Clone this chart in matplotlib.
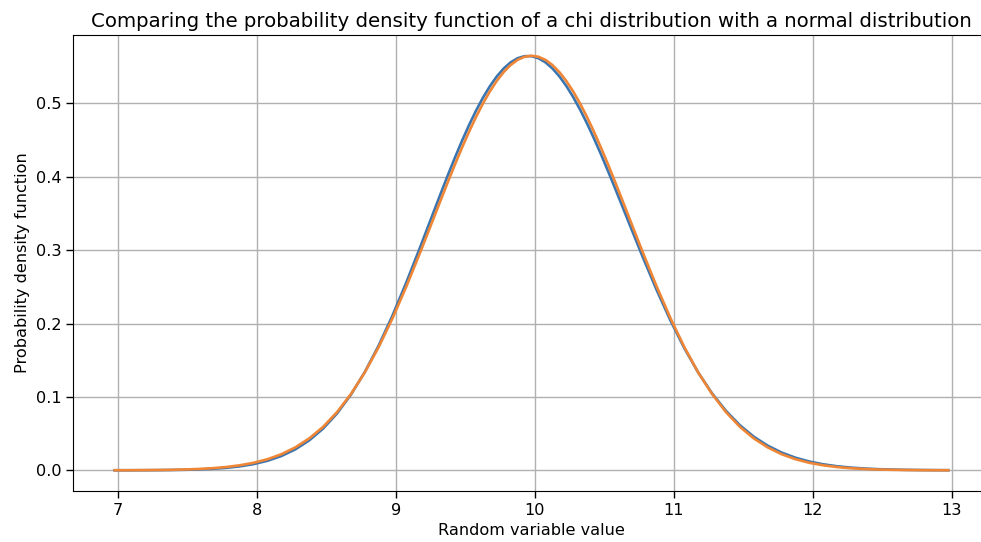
import matplotlib
matplotlib.use("Agg")
import matplotlib.pyplot as plt

# Random variable values (x positions of the sampled curves)
x_values = [6.975, 7.075, 7.175, 7.275, 7.375, 7.475, 7.575, 7.675, 7.775, 7.875,
            7.975, 8.075, 8.175, 8.275, 8.375, 8.475, 8.575, 8.675, 8.775, 8.875,
            8.975, 9.075, 9.175, 9.275, 9.325, 9.375, 9.425, 9.475, 9.525, 9.575, 9.625,
            9.675, 9.725, 9.775, 9.825, 9.875, 9.925, 9.975, 10.025, 10.075, 10.125,
            10.175, 10.225, 10.275, 10.325, 10.375, 10.425, 10.475, 10.525, 10.575, 10.625,
            10.675, 10.775, 10.875,
            10.975, 11.075, 11.175, 11.275, 11.375, 11.475, 11.575, 11.675, 11.775, 11.875,
            11.975, 12.075, 12.175, 12.275, 12.375, 12.475, 12.575, 12.675, 12.775, 12.875,
            12.975]

# Chi distribution pdf (blue)
chi_pdf = [0.0000258, 0.0000524, 0.000103, 0.000197, 0.000366, 0.000660, 0.001160, 0.001982, 0.003288, 0.005342,
           0.008435, 0.012981, 0.019482, 0.028521, 0.040746, 0.056823, 0.077381, 0.102934, 0.133786, 0.169965,
           0.211104, 0.256419, 0.304677, 0.354228, 0.378874, 0.403068, 0.426541, 0.449000, 0.470159, 0.489746, 0.507513,
           0.523201, 0.536618, 0.547561, 0.555897, 0.561508, 0.564320, 0.564308, 0.561499, 0.555932, 0.547711,
           0.536968, 0.523862, 0.508597, 0.491390, 0.472480, 0.452127, 0.430586, 0.408126, 0.385010, 0.361496,
           0.337829, 0.290942, 0.245962,
           0.204151, 0.166389, 0.133183, 0.104709, 0.080872, 0.061368, 0.045759, 0.033532, 0.024152, 0.017100,
           0.011903, 0.008146, 0.005483, 0.003627, 0.002362, 0.001513, 0.000953, 0.000591, 0.000360, 0.000216,
           0.000128]

# Normal distribution pdf (orange)
normal_pdf = [0.000068, 0.00012, 0.00022, 0.00038, 0.00064, 0.00107, 0.00175, 0.0028, 0.0044, 0.0068,
              0.0102, 0.0151, 0.0219, 0.0312, 0.0434, 0.0592, 0.0792, 0.1038, 0.1333, 0.1679,
              0.2073, 0.2508, 0.2974, 0.3456, 0.36984, 0.3938, 0.41713, 0.4397, 0.46112, 0.4812, 0.49963,
              0.5162, 0.53061, 0.5427, 0.55232, 0.5593, 0.56351, 0.5649, 0.56351, 0.5593, 0.55232,
              0.5427, 0.53061, 0.5162, 0.49963, 0.4812, 0.46112, 0.4397, 0.41713, 0.3938, 0.36984,
              0.3456, 0.2974, 0.2508,
              0.2073, 0.1679, 0.1333, 0.1038, 0.0792, 0.0592, 0.0434, 0.0312, 0.0219, 0.0151,
              0.0102, 0.0068, 0.0044, 0.0028, 0.00175, 0.00107, 0.00064, 0.00038, 0.00022, 0.00012,
              0.000068]

title = "Comparing the probability density function of a chi distribution with a normal distribution"
xlabel = "Random variable value"
ylabel = "Probability density function"

fig = plt.figure(figsize=(9.81, 5.42), dpi=100)
ax = fig.add_axes([73 / 981, 51 / 542, 917 / 981, 456 / 542])

ax.plot(x_values, chi_pdf, color="#3b75af", lw=1.9)
ax.plot(x_values, normal_pdf, color="#ef8636", lw=1.9)

ax.grid(True, color="#b0b0b0", lw=1.0)
ax.set_axisbelow(True)
ax.set_title(title, fontsize=14.2)
ax.set_xlabel(xlabel, fontsize=11.6)
ax.set_ylabel(ylabel, fontsize=11.6)
ax.tick_params(labelsize=11.6, length=5, width=1.0)

fig.savefig("out.png", dpi=100)
